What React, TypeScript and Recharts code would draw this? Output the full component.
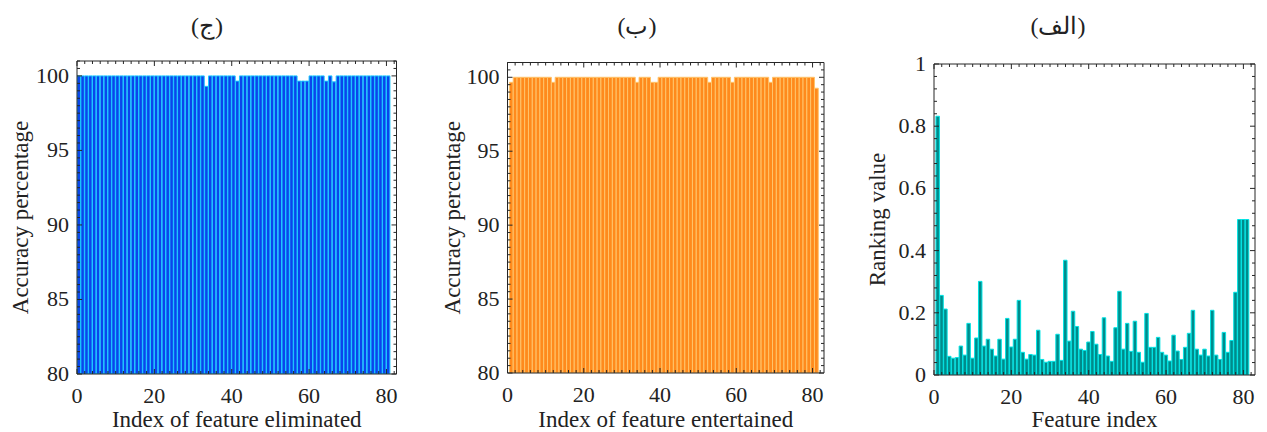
import React from 'react';
import { BarChart, Bar, XAxis, YAxis } from 'recharts';

// feature indices 1..81
const featureIndex = [
  1, 2, 3, 4, 5, 6, 7, 8, 9, 10, 11, 12, 13, 14, 15, 16, 17, 18, 19, 20,
  21, 22, 23, 24, 25, 26, 27, 28, 29, 30, 31, 32, 33, 34, 35, 36, 37, 38, 39, 40,
  41, 42, 43, 44, 45, 46, 47, 48, 49, 50, 51, 52, 53, 54, 55, 56, 57, 58, 59, 60,
  61, 62, 63, 64, 65, 66, 67, 68, 69, 70, 71, 72, 73, 74, 75, 76, 77, 78, 79, 80, 81,
];

// (ج) accuracy when feature is eliminated
const accEliminated = [
  100, 100, 100, 100, 100, 100, 100, 100, 100, 100, 100, 100, 100, 100, 100, 100, 100, 100, 100, 100,
  100, 100, 100, 100, 100, 100, 100, 100, 100, 100, 100, 100, 100, 99.3, 100, 100, 100, 100, 100, 100,
  100, 99.65, 100, 100, 100, 100, 100, 100, 100, 100, 100, 100, 100, 100, 100, 100, 100, 99.65, 99.65, 99.65,
  100, 100, 100, 100, 99.65, 100, 99.6, 100, 100, 100, 100, 100, 100, 100, 100, 100, 100, 100, 100, 100, 100,
];

// (ب) accuracy when feature is entertained
const accEntertained = [
  99.66, 100, 100, 100, 100, 100, 100, 100, 100, 100, 100, 99.66, 100, 100, 100, 100, 100, 100, 100, 100,
  100, 100, 100, 100, 100, 100, 100, 100, 100, 100, 100, 100, 100, 99.66, 100, 100, 100, 99.66, 99.66, 100,
  100, 100, 100, 100, 100, 100, 100, 100, 100, 100, 100, 100, 99.66, 100, 100, 100, 100, 100, 99.66, 100,
  100, 100, 100, 100, 100, 100, 100, 100, 99.66, 100, 100, 100, 100, 100, 100, 100, 100, 100, 100, 100, 99.26,
];

// (الف) ranking value
const rankingValue = [
  0.832, 0.256, 0.212, 0.06, 0.054, 0.056, 0.093, 0.064, 0.166, 0.054, 0.119, 0.301, 0.093, 0.115, 0.083, 0.061, 0.115, 0.051, 0.182, 0.09,
  0.115, 0.24, 0.073, 0.051, 0.066, 0.064, 0.144, 0.05, 0.041, 0.044, 0.044, 0.131, 0.047, 0.369, 0.109, 0.205, 0.156, 0.083, 0.079, 0.106,
  0.14, 0.099, 0.066, 0.184, 0.061, 0.044, 0.152, 0.269, 0.083, 0.166, 0.076, 0.173, 0.073, 0.041, 0.198, 0.089, 0.089, 0.121, 0.073, 0.064,
  0.045, 0.128, 0.077, 0.05, 0.089, 0.134, 0.208, 0.083, 0.064, 0.083, 0.061, 0.208, 0.064, 0.05, 0.137, 0.073, 0.111, 0.266, 0.5, 0.5, 0.5,
];

const xMajor = [0, 20, 40, 60, 80];
const accMajor = [80, 85, 90, 95, 100];
const rankMajor = [0, 0.2, 0.4, 0.6, 0.8, 1];

const titles = ['(ج)', '(ب)', '(الف)'];

const FONT = '"Liberation Serif", "Times New Roman", "DejaVu Serif", serif';
const AXIS = '#262626';

const steps = (from: number, to: number, step: number) => {
  const out: number[] = [];
  for (let i = 0; from + i * step <= to + 1e-9; i++) out.push(Math.round((from + i * step) * 1000) / 1000);
  return out;
};

type Side = 'bottom' | 'top' | 'left' | 'right';

const makeTick = (side: Side, major: number[], fmt?: (v: number) => string) => (props: any) => {
  const { x, y, payload } = props;
  const v = payload.value as number;
  const isMajor = major.some((m) => Math.abs(m - v) < 1e-6);
  const len = isMajor ? 5 : 3;
  let line = null;
  if (side === 'bottom') line = <line x1={x} y1={y} x2={x} y2={y - len} stroke={AXIS} />;
  if (side === 'top') line = <line x1={x} y1={y} x2={x} y2={y + len} stroke={AXIS} />;
  if (side === 'left') line = <line x1={x} y1={y} x2={x + len} y2={y} stroke={AXIS} />;
  if (side === 'right') line = <line x1={x} y1={y} x2={x - len} y2={y} stroke={AXIS} />;
  let label = null;
  if (fmt && isMajor) {
    if (side === 'bottom')
      label = (
        <text x={x} y={y + 29} textAnchor="middle" fontSize={22} fontFamily={FONT} fill="#222">
          {fmt(v)}
        </text>
      );
    if (side === 'left')
      label = (
        <text x={x - 8} y={y + 7} textAnchor="end" fontSize={22} fontFamily={FONT} fill="#222">
          {fmt(v)}
        </text>
      );
  }
  return (
    <g>
      {line}
      {label}
    </g>
  );
};

const yTitle = (text: string, dx: number) => (props: any) => {
  const vb = props.viewBox;
  const cx = vb.x + dx;
  const cy = vb.y + vb.height / 2;
  return (
    <text
      x={cx}
      y={cy}
      transform={`rotate(-90, ${cx}, ${cy})`}
      textAnchor="middle"
      dominantBaseline="central"
      fontSize={23}
      fontFamily={FONT}
      fill="#222"
    >
      {text}
    </text>
  );
};

const xTitle = (text: string) => (props: any) => {
  const vb = props.viewBox;
  return (
    <text
      x={vb.x + vb.width / 2}
      y={vb.y + vb.height - 5}
      textAnchor="middle"
      fontSize={23}
      fontFamily={FONT}
      fill="#222"
    >
      {text}
    </text>
  );
};

interface PanelProps {
  left: number;
  width: number;
  top: number;
  bottom: number;
  yWidth: number;
  right: number;
  xMax: number;
  xShift: number;
  yDomain: [number, number];
  yMinor: number;
  yMajorTicks: number[];
  yFmt: (v: number) => string;
  values: number[];
  barSize: number;
  fill: string;
  stroke: string;
  xLabel: string;
  yLabel: string;
  yLabelDx: number;
}

const Panel: React.FC<PanelProps> = (p) => {
  const rows = featureIndex.map((idx, i) => ({ idx: idx + p.xShift, v: p.values[i] }));
  const xTicks = steps(0, p.xMax, 2);
  const yTicks = steps(p.yDomain[0], p.yDomain[1], p.yMinor);
  const xFmt = (v: number) => String(v);
  return (
    <div style={{ position: 'absolute', left: p.left, top: 0 }}>
      <BarChart
        width={p.width}
        height={432}
        data={rows}
        margin={{ top: p.top - 1, right: p.right - 1, bottom: 0, left: 0 }}
      >
        <XAxis
          xAxisId="b"
          dataKey="idx"
          type="number"
          domain={[0, p.xMax]}
          allowDataOverflow
          ticks={xTicks}
          interval={0}
          tickSize={0}
          tickMargin={0}
          tickLine={false}
          tick={makeTick('bottom', xMajor, xFmt)}
          axisLine={{ stroke: AXIS }}
          height={432 - p.bottom}
          label={{ content: xTitle(p.xLabel) }}
        />
        <XAxis
          xAxisId="t"
          dataKey="idx"
          orientation="top"
          type="number"
          domain={[0, p.xMax]}
          allowDataOverflow
          ticks={xTicks}
          interval={0}
          tickSize={0}
          tickMargin={0}
          tickLine={false}
          tick={makeTick('top', xMajor)}
          axisLine={{ stroke: AXIS }}
          height={1}
        />
        <YAxis
          yAxisId="l"
          type="number"
          domain={p.yDomain}
          allowDataOverflow
          ticks={yTicks}
          interval={0}
          tickSize={0}
          tickMargin={0}
          tickLine={false}
          tick={makeTick('left', p.yMajorTicks, p.yFmt)}
          axisLine={{ stroke: AXIS }}
          width={p.yWidth}
          label={{ content: yTitle(p.yLabel, p.yLabelDx) }}
        />
        <YAxis
          yAxisId="r"
          orientation="right"
          type="number"
          domain={p.yDomain}
          allowDataOverflow
          ticks={yTicks}
          interval={0}
          tickSize={0}
          tickMargin={0}
          tickLine={false}
          tick={makeTick('right', p.yMajorTicks)}
          axisLine={{ stroke: AXIS }}
          width={1}
        />
        <Bar
          xAxisId="b"
          yAxisId="l"
          dataKey="v"
          barSize={p.barSize}
          fill={p.fill}
          stroke={p.stroke}
          strokeWidth={1}
          isAnimationActive={false}
        />
      </BarChart>
    </div>
  );
};

const titleStyle = (cx: number): React.CSSProperties => ({
  position: 'absolute',
  left: cx - 60,
  width: 120,
  top: 11,
  textAlign: 'center',
  fontFamily: FONT,
  fontSize: 24,
  color: '#222',
  lineHeight: '30px',
});

export default function App() {
  return (
    <div style={{ position: 'absolute', left: 0, top: 0, width: 1267, height: 432, background: '#fff' }}>
      <div style={titleStyle(207)} dir="rtl">{titles[0]}</div>
      <div style={titleStyle(637)} dir="rtl">{titles[1]}</div>
      <div style={titleStyle(1058)} dir="rtl">{titles[2]}</div>

      <Panel
        left={0}
        width={420}
        top={61}
        bottom={374}
        yWidth={77}
        right={23.5}
        xMax={82.6}
        xShift={-0.5}
        yDomain={[80, 101]}
        yMinor={0.5}
        yMajorTicks={accMajor}
        yFmt={(v) => String(v)}
        values={accEliminated}
        barSize={3.87}
        fill="#0b45ec"
        stroke="#1cc8ff"
        xLabel="Index of feature eliminated"
        yLabel="Accuracy percentage"
        yLabelDx={20}
      />
      <Panel
        left={430}
        width={420}
        top={62.5}
        bottom={373}
        yWidth={77.5}
        right={26}
        xMax={83}
        xShift={0}
        yDomain={[80, 101]}
        yMinor={0.5}
        yMajorTicks={accMajor}
        yFmt={(v) => String(v)}
        values={accEntertained}
        barSize={3.81}
        fill="#ff8a1c"
        stroke="#ffc46a"
        xLabel="Index of feature entertained"
        yLabel="Accuracy percentage"
        yLabelDx={22}
      />
      <Panel
        left={850}
        width={417}
        top={64}
        bottom={375}
        yWidth={84}
        right={12}
        xMax={83}
        xShift={0}
        yDomain={[0, 1]}
        yMinor={0.04}
        yMajorTicks={rankMajor}
        yFmt={(v) => String(v)}
        values={rankingValue}
        barSize={3.87}
        fill="#008b8b"
        stroke="#00e4e4"
        xLabel="Feature index"
        yLabel="Ranking value"
        yLabelDx={27}
      />
    </div>
  );
}
